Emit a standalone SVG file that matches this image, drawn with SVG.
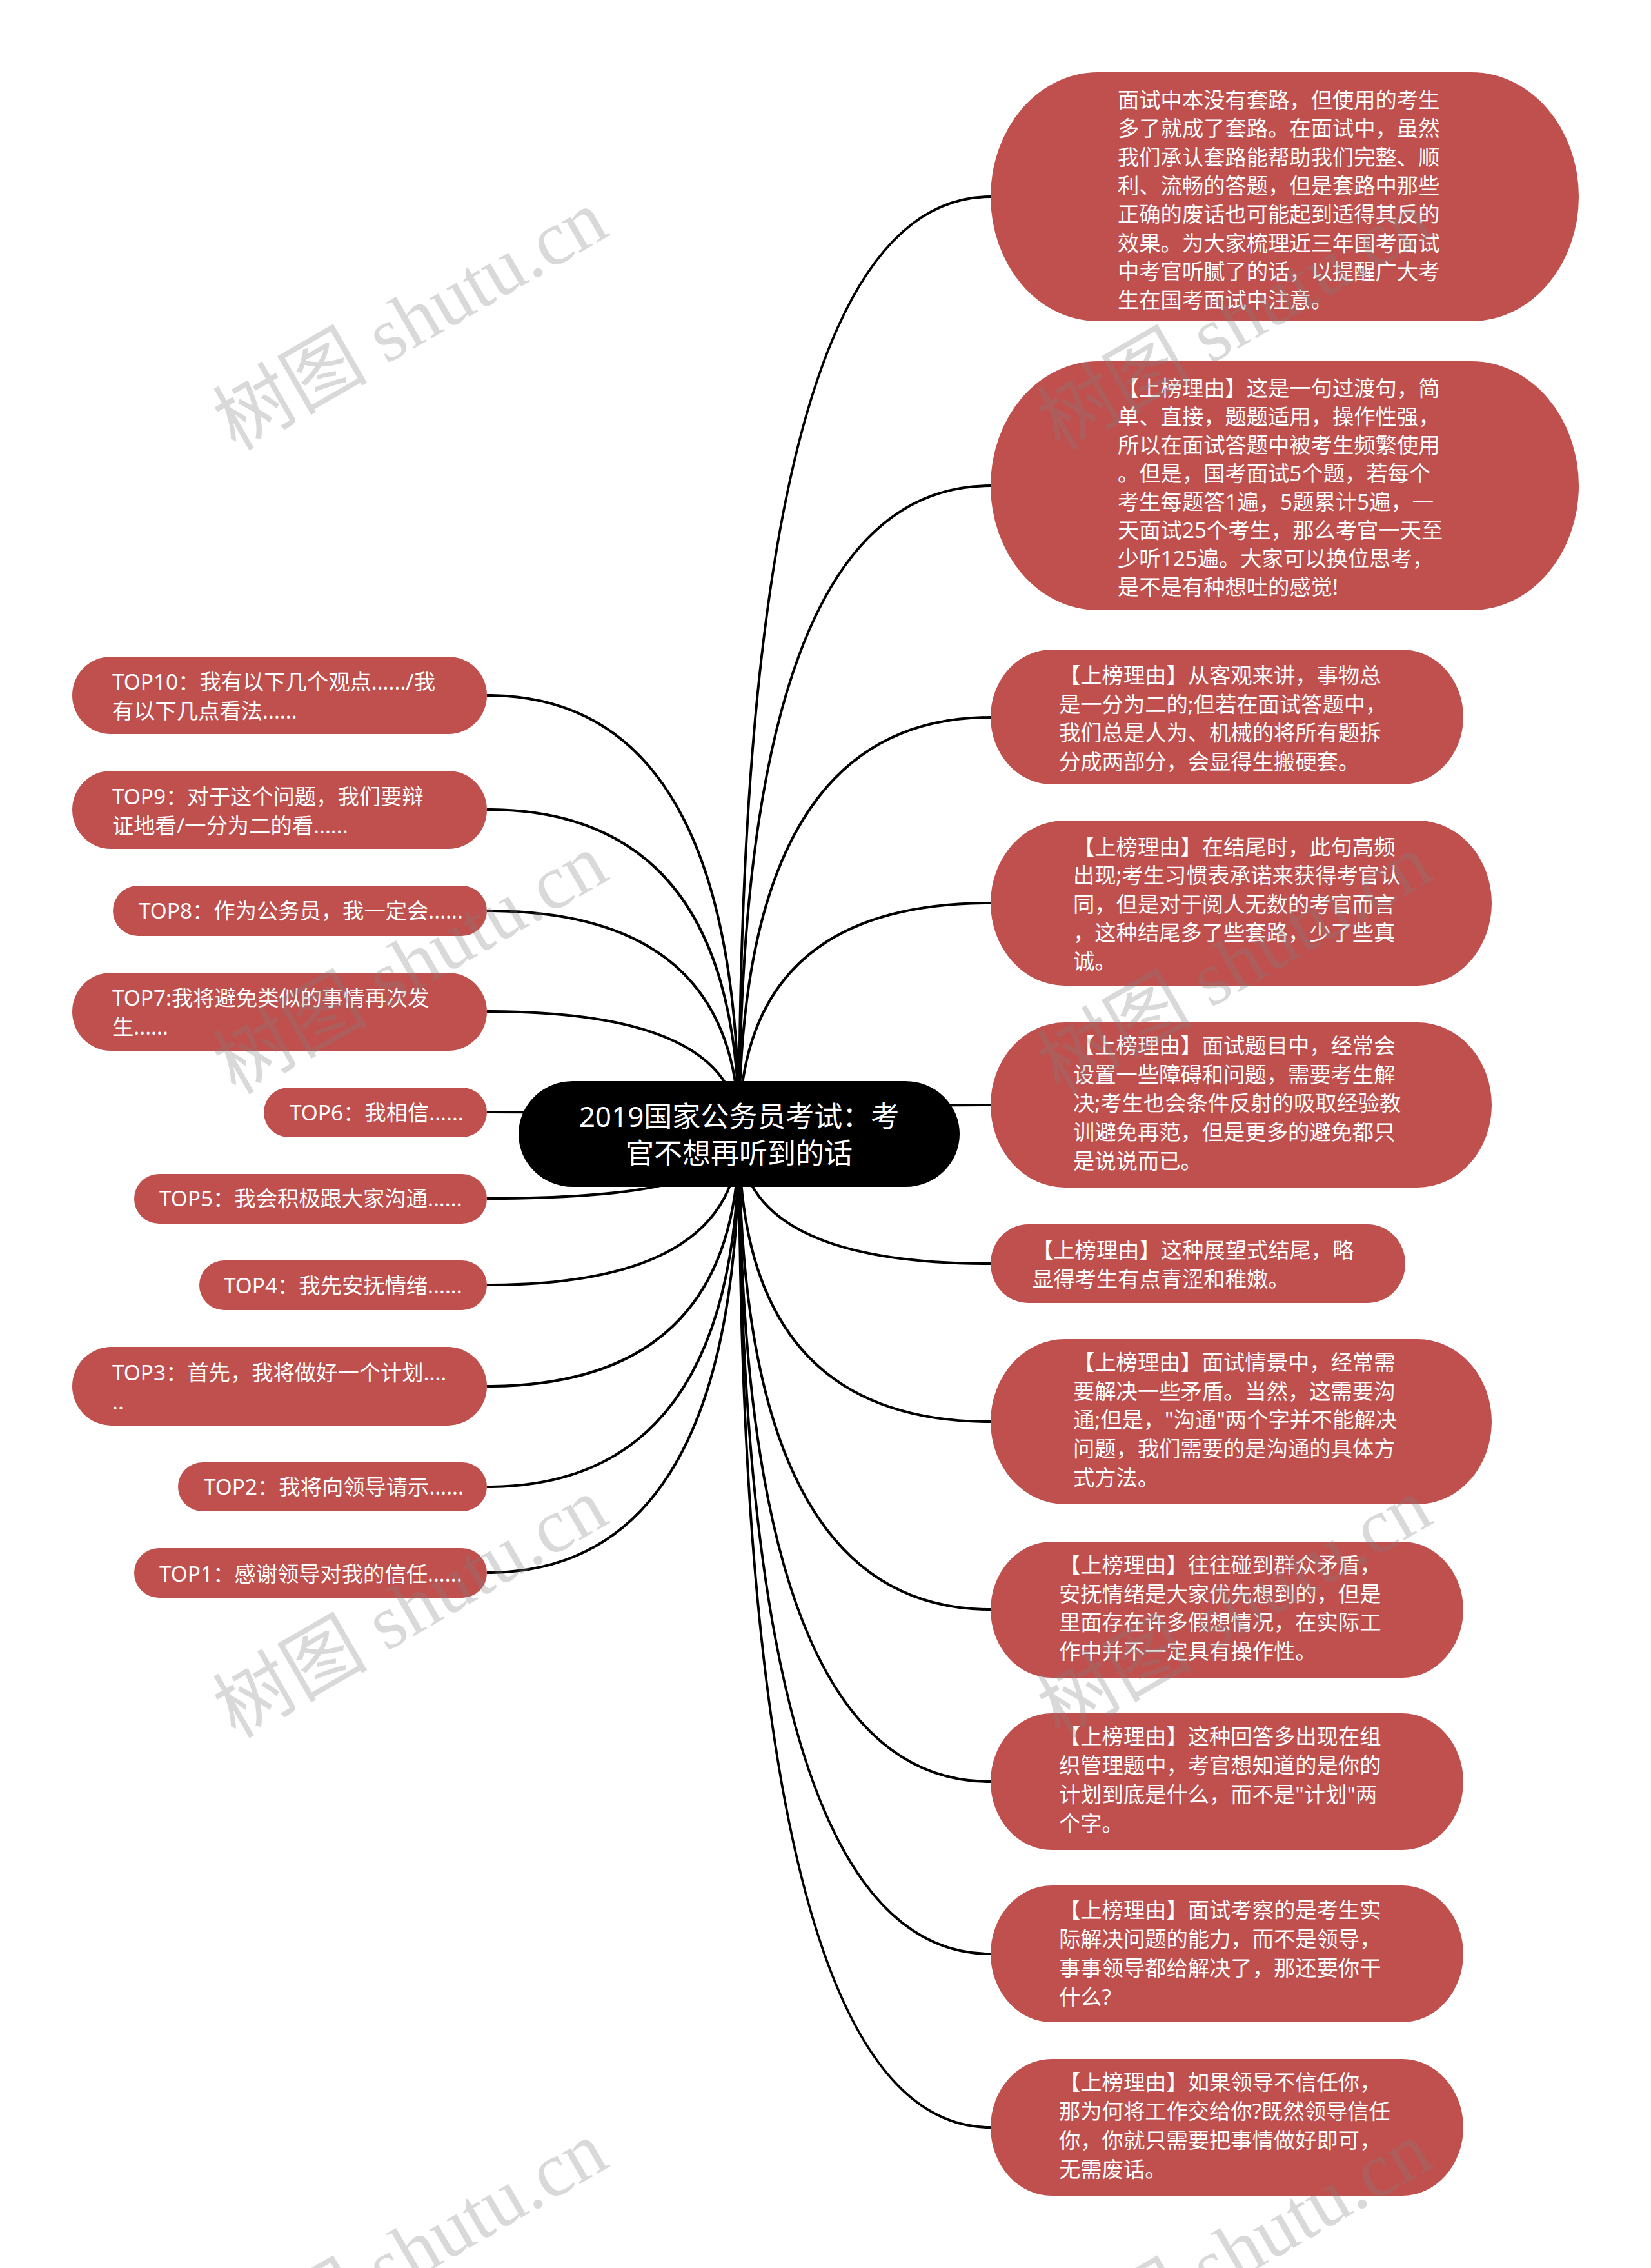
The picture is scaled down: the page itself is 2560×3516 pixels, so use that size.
<svg xmlns="http://www.w3.org/2000/svg" width="2560" height="3516" viewBox="0 0 2560 3516">
<style>
.bg{fill:#ffffff}
.lk{fill:none;stroke:#000;stroke-width:4}
.nd{fill:#C0504D}
.rt{fill:#000}
.tx{fill:#fff;font-family:"Noto Sans","Noto Sans CJK SC",sans-serif;font-size:33.3px}
.rtx{fill:#fff;font-family:"Noto Sans","Noto Sans CJK SC",sans-serif;font-size:44px;text-anchor:middle}
.wm{fill:#808080;fill-opacity:0.3;font-family:"Liberation Serif","Noto Sans CJK SC",serif;font-size:120px}
</style>
<rect class="bg" x="0" y="0" width="2560" height="3516"/>
<g id="connectors">
<path class="lk" d="M1146 1757 Q1146 305 1536 305"/>
<path class="lk" d="M1146 1757 Q1146 753 1536 753"/>
<path class="lk" d="M1146 1757 Q1146 1112 1536 1112"/>
<path class="lk" d="M1146 1757 Q1146 1400 1536 1400"/>
<path class="lk" d="M1146 1757 Q1146 1713 1536 1713"/>
<path class="lk" d="M1146 1757 Q1146 1959 1536 1959"/>
<path class="lk" d="M1146 1757 Q1146 2204 1536 2204"/>
<path class="lk" d="M1146 1757 Q1146 2495 1536 2495"/>
<path class="lk" d="M1146 1757 Q1146 2762 1536 2762"/>
<path class="lk" d="M1146 1757 Q1146 3029 1536 3029"/>
<path class="lk" d="M1146 1757 Q1146 3298 1536 3298"/>
<path class="lk" d="M1146 1757 Q1146 1078 755 1078"/>
<path class="lk" d="M1146 1757 Q1146 1255 755 1255"/>
<path class="lk" d="M1146 1757 Q1146 1412 755 1412"/>
<path class="lk" d="M1146 1757 Q1146 1568 755 1568"/>
<path class="lk" d="M1146 1757 Q1146 1724 755 1724"/>
<path class="lk" d="M1146 1757 Q1146 1858 755 1858"/>
<path class="lk" d="M1146 1757 Q1146 1992 755 1992"/>
<path class="lk" d="M1146 1757 Q1146 2149 755 2149"/>
<path class="lk" d="M1146 1757 Q1146 2305 755 2305"/>
<path class="lk" d="M1146 1757 Q1146 2438 755 2438"/>
</g>
<g id="root">
<rect class="rt" x="804" y="1676" width="684" height="164" rx="84" ry="82"/>
<text class="rtx" x="1146" y="1747"><tspan x="1146">2019国家公务员考试：考</tspan><tspan x="1146" dy="57">官不想再听到的话</tspan></text>
</g>
<g id="r1">
<rect class="nd" x="1536" y="112" width="912" height="386" rx="166" ry="193"/>
<text class="tx" y="167"><tspan x="1733">面试中本没有套路，但使用的考生</tspan><tspan x="1733" dy="44.3">多了就成了套路。在面试中，虽然</tspan><tspan x="1733" dy="44.3">我们承认套路能帮助我们完整、顺</tspan><tspan x="1733" dy="44.3">利、流畅的答题，但是套路中那些</tspan><tspan x="1733" dy="44.3">正确的废话也可能起到适得其反的</tspan><tspan x="1733" dy="44.3">效果。为大家梳理近三年国考面试</tspan><tspan x="1733" dy="44.3">中考官听腻了的话，以提醒广大考</tspan><tspan x="1733" dy="44.3">生在国考面试中注意。</tspan></text>
</g>
<g id="r2">
<rect class="nd" x="1536" y="560" width="912" height="386" rx="166" ry="193"/>
<text class="tx" y="614"><tspan x="1733">【上榜理由】这是一句过渡句，简</tspan><tspan x="1733" dy="44">单、直接，题题适用，操作性强，</tspan><tspan x="1733" dy="44">所以在面试答题中被考生频繁使用</tspan><tspan x="1733" dy="44">。但是，国考面试5个题，若每个</tspan><tspan x="1733" dy="44">考生每题答1遍，5题累计5遍，一</tspan><tspan x="1733" dy="44">天面试25个考生，那么考官一天至</tspan><tspan x="1733" dy="44">少听125遍。大家可以换位思考，</tspan><tspan x="1733" dy="44">是不是有种想吐的感觉!</tspan></text>
</g>
<g id="r3">
<rect class="nd" x="1536" y="1007" width="733" height="209" rx="95" ry="104.5"/>
<text class="tx" y="1059"><tspan x="1642">【上榜理由】从客观来讲，事物总</tspan><tspan x="1642" dy="44.7">是一分为二的;但若在面试答题中，</tspan><tspan x="1642" dy="44.7">我们总是人为、机械的将所有题拆</tspan><tspan x="1642" dy="44.7">分成两部分，会显得生搬硬套。</tspan></text>
</g>
<g id="r4">
<rect class="nd" x="1536" y="1272" width="777" height="256" rx="115" ry="128"/>
<text class="tx" y="1325"><tspan x="1664">【上榜理由】在结尾时，此句高频</tspan><tspan x="1664" dy="44.3">出现;考生习惯表承诺来获得考官认</tspan><tspan x="1664" dy="44.3">同，但是对于阅人无数的考官而言</tspan><tspan x="1664" dy="44.3">，这种结尾多了些套路，少了些真</tspan><tspan x="1664" dy="44.3">诚。</tspan></text>
</g>
<g id="r5">
<rect class="nd" x="1536" y="1585" width="777" height="256" rx="115" ry="128"/>
<text class="tx" y="1633"><tspan x="1664">【上榜理由】面试题目中，经常会</tspan><tspan x="1664" dy="44.7">设置一些障碍和问题，需要考生解</tspan><tspan x="1664" dy="44.7">决;考生也会条件反射的吸取经验教</tspan><tspan x="1664" dy="44.7">训避免再范，但是更多的避免都只</tspan><tspan x="1664" dy="44.7">是说说而已。</tspan></text>
</g>
<g id="r6">
<rect class="nd" x="1536" y="1898" width="643" height="122" rx="58" ry="61"/>
<text class="tx" y="1950"><tspan x="1600">【上榜理由】这种展望式结尾，略</tspan><tspan x="1600" dy="45">显得考生有点青涩和稚嫩。</tspan></text>
</g>
<g id="r7">
<rect class="nd" x="1536" y="2076" width="777" height="256" rx="115" ry="128"/>
<text class="tx" y="2124"><tspan x="1664">【上榜理由】面试情景中，经常需</tspan><tspan x="1664" dy="44.7">要解决一些矛盾。当然，这需要沟</tspan><tspan x="1664" dy="44.7">通;但是，"沟通"两个字并不能解决</tspan><tspan x="1664" dy="44.7">问题，我们需要的是沟通的具体方</tspan><tspan x="1664" dy="44.7">式方法。</tspan></text>
</g>
<g id="r8">
<rect class="nd" x="1536" y="2390" width="733" height="211" rx="95" ry="105.5"/>
<text class="tx" y="2438"><tspan x="1642">【上榜理由】往往碰到群众矛盾，</tspan><tspan x="1642" dy="44.5">安抚情绪是大家优先想到的，但是</tspan><tspan x="1642" dy="44.5">里面存在许多假想情况，在实际工</tspan><tspan x="1642" dy="44.5">作中并不一定具有操作性。</tspan></text>
</g>
<g id="r9">
<rect class="nd" x="1536" y="2656" width="733" height="212" rx="95" ry="106"/>
<text class="tx" y="2704"><tspan x="1642">【上榜理由】这种回答多出现在组</tspan><tspan x="1642" dy="45">织管理题中，考官想知道的是你的</tspan><tspan x="1642" dy="45">计划到底是什么，而不是"计划"两</tspan><tspan x="1642" dy="45">个字。</tspan></text>
</g>
<g id="r10">
<rect class="nd" x="1536" y="2923" width="733" height="212" rx="95" ry="106"/>
<text class="tx" y="2973"><tspan x="1642">【上榜理由】面试考察的是考生实</tspan><tspan x="1642" dy="45">际解决问题的能力，而不是领导，</tspan><tspan x="1642" dy="45">事事领导都给解决了，那还要你干</tspan><tspan x="1642" dy="45">什么?</tspan></text>
</g>
<g id="r11">
<rect class="nd" x="1536" y="3192" width="733" height="212" rx="95" ry="106"/>
<text class="tx" y="3240"><tspan x="1642">【上榜理由】如果领导不信任你，</tspan><tspan x="1642" dy="45">那为何将工作交给你?既然领导信任</tspan><tspan x="1642" dy="45">你，你就只需要把事情做好即可，</tspan><tspan x="1642" dy="45">无需废话。</tspan></text>
</g>
<g id="l10">
<rect class="nd" x="112" y="1018" width="643" height="120" rx="60" ry="60"/>
<text class="tx" y="1069"><tspan x="174">TOP10：我有以下几个观点....../我</tspan><tspan x="174" dy="45">有以下几点看法......</tspan></text>
</g>
<g id="l9">
<rect class="nd" x="112" y="1195" width="643" height="121" rx="60" ry="60.5"/>
<text class="tx" y="1247"><tspan x="174">TOP9：对于这个问题，我们要辩</tspan><tspan x="174" dy="45">证地看/一分为二的看......</tspan></text>
</g>
<g id="l8">
<rect class="nd" x="175" y="1373" width="580" height="78" rx="39" ry="39"/>
<text class="tx" x="215" y="1424">TOP8：作为公务员，我一定会......</text>
</g>
<g id="l7">
<rect class="nd" x="112" y="1508" width="643" height="121" rx="60" ry="60.5"/>
<text class="tx" y="1559"><tspan x="174">TOP7:我将避免类似的事情再次发</tspan><tspan x="174" dy="45">生......</tspan></text>
</g>
<g id="l6">
<rect class="nd" x="409" y="1686" width="346" height="77" rx="38.5" ry="38.5"/>
<text class="tx" x="449" y="1737">TOP6：我相信......</text>
</g>
<g id="l5">
<rect class="nd" x="208" y="1820" width="547" height="77" rx="38.5" ry="38.5"/>
<text class="tx" x="247" y="1870">TOP5：我会积极跟大家沟通......</text>
</g>
<g id="l4">
<rect class="nd" x="309" y="1954" width="446" height="77" rx="38.5" ry="38.5"/>
<text class="tx" x="347" y="2005">TOP4：我先安抚情绪......</text>
</g>
<g id="l3">
<rect class="nd" x="112" y="2088" width="643" height="122" rx="61" ry="61"/>
<text class="tx" y="2140"><tspan x="174">TOP3：首先，我将做好一个计划....</tspan><tspan x="174" dy="45">..</tspan></text>
</g>
<g id="l2">
<rect class="nd" x="276" y="2267" width="479" height="76" rx="38" ry="38"/>
<text class="tx" x="316" y="2317">TOP2：我将向领导请示......</text>
</g>
<g id="l1">
<rect class="nd" x="208" y="2400" width="547" height="77" rx="38.5" ry="38.5"/>
<text class="tx" x="247" y="2452">TOP1：感谢领导对我的信任......</text>
</g>
<g id="watermarks">
<text class="wm" x="365" y="700" transform="rotate(-30 365 700)">树图 shutu.cn</text>
<text class="wm" x="1643" y="700" transform="rotate(-30 1643 700)">树图 shutu.cn</text>
<text class="wm" x="365" y="1698" transform="rotate(-30 365 1698)">树图 shutu.cn</text>
<text class="wm" x="1643" y="1698" transform="rotate(-30 1643 1698)">树图 shutu.cn</text>
<text class="wm" x="365" y="2696" transform="rotate(-30 365 2696)">树图 shutu.cn</text>
<text class="wm" x="1643" y="2696" transform="rotate(-30 1643 2696)">树图 shutu.cn</text>
<text class="wm" x="365" y="3694" transform="rotate(-30 365 3694)">树图 shutu.cn</text>
<text class="wm" x="1643" y="3694" transform="rotate(-30 1643 3694)">树图 shutu.cn</text>
</g>
</svg>
